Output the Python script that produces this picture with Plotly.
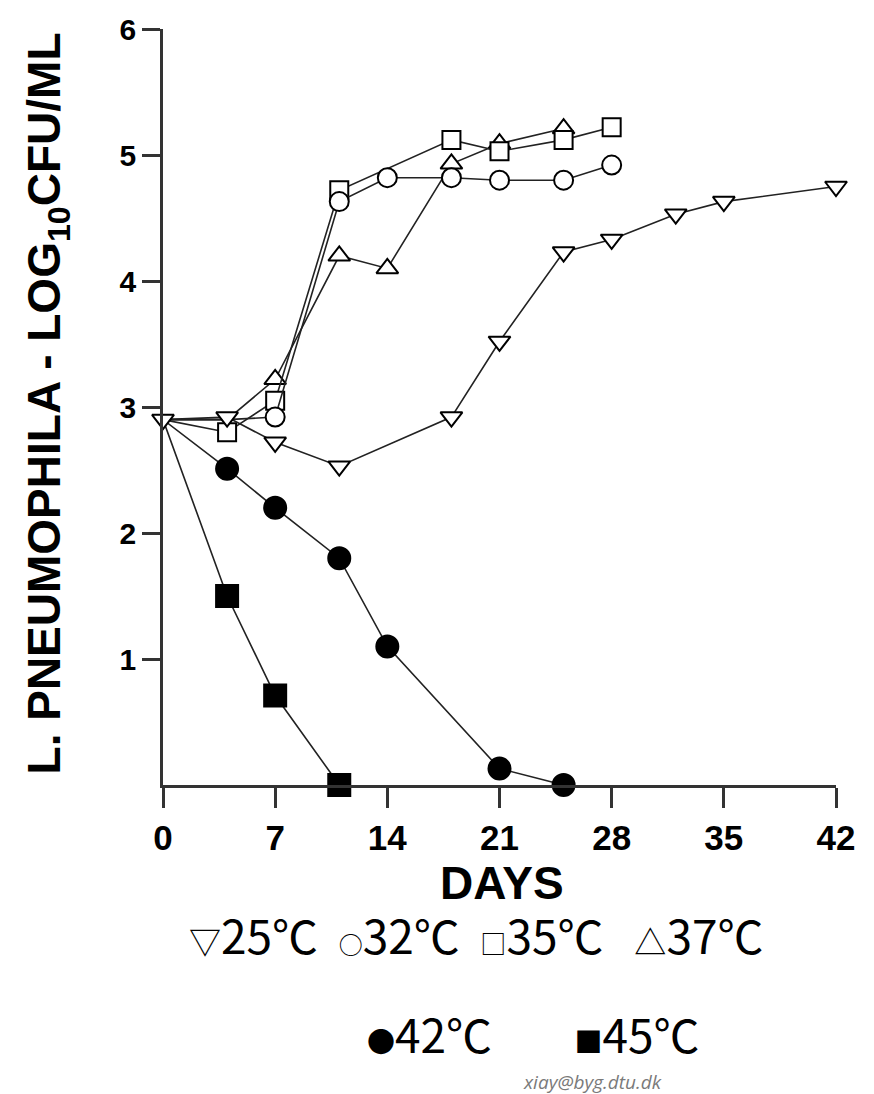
import plotly.graph_objects as go

# ---- data ----
days_25 = [0, 4, 7, 11, 18, 21, 25, 28, 32, 35, 42]
vals_25 = [2.9, 2.92, 2.72, 2.53, 2.92, 3.52, 4.23, 4.33, 4.53, 4.63, 4.75]

days_32 = [0, 4, 7, 11, 14, 18, 21, 25, 28]
vals_32 = [2.9, 2.9, 2.92, 4.63, 4.82, 4.82, 4.8, 4.8, 4.92]

days_35 = [0, 4, 7, 11, 18, 21, 25, 28]
vals_35 = [2.9, 2.8, 3.05, 4.72, 5.12, 5.03, 5.12, 5.22]

days_37 = [0, 4, 7, 11, 14, 18, 21, 25]
vals_37 = [2.9, 2.9, 3.22, 4.2, 4.1, 4.93, 5.09, 5.21]

days_42 = [0, 4, 7, 11, 14, 21, 25]
vals_42 = [2.9, 2.51, 2.2, 1.8, 1.1, 0.13, 0.0]

days_45 = [0, 4, 7, 11]
vals_45 = [2.9, 1.5, 0.71, 0.0]

x_ticks = [0, 7, 14, 21, 28, 35, 42]
x_tick_labels = ["0", "7", "14", "21", "28", "35", "42"]
y_ticks = [1, 2, 3, 4, 5, 6]
y_tick_labels = ["1", "2", "3", "4", "5", "6"]

# (name, x, y, symbol, fill, size, number of leading points whose marker is hidden under the 25℃ marker)
series = [
    ("37℃", days_37, vals_37, "triangle-up", "white", 19, 2),
    ("35℃", days_35, vals_35, "square", "white", 18, 1),
    ("32℃", days_32, vals_32, "circle", "white", 19, 2),
    ("42℃", days_42, vals_42, "circle", "black", 22, 1),
    ("45℃", days_45, vals_45, "square", "black", 22, 1),
    ("25℃", days_25, vals_25, "triangle-down", "white", 19, 0),
]

fig = go.Figure()
for name, xs, ys, sym, fill, size, hidden in series:
    sizes = [0 if i < hidden else size for i in range(len(xs))]
    fig.add_trace(go.Scatter(
        x=xs, y=ys, name=name, mode="lines+markers",
        line=dict(color="#222222", width=1.6),
        marker=dict(symbol=sym, size=sizes, color=fill, opacity=1,
                    line=dict(color="black", width=2)),
        cliponaxis=False, showlegend=False,
    ))

axis_font = dict(family="Liberation Sans, Arial, sans-serif", color="black", weight="bold")

fig.update_xaxes(
    range=[0, 42], tickvals=x_ticks, ticktext=x_tick_labels,
    showgrid=False, zeroline=False, showline=True, linecolor="#333333", linewidth=2.5,
    ticks="outside", ticklen=20, tickwidth=2.5, tickcolor="#333333",
    tickfont=dict(size=35, **axis_font),
)
fig.update_yaxes(
    range=[0, 6], tickvals=y_ticks, ticktext=y_tick_labels,
    showgrid=False, zeroline=False, showline=True, linecolor="#333333", linewidth=2.5,
    ticks="outside", ticklen=18, tickwidth=2.5, tickcolor="#333333",
    tickfont=dict(size=30, **axis_font),
)


def sym(ch, px):
    return f'<span style="font-size:{px}px">{ch}</span>'


legend_line1 = (sym("▽", 32) + "25℃  " + sym("○", 24) + "32℃  "
                + sym("□", 26) + "35℃   " + sym("△", 32) + "37℃")
legend_line2 = sym("●", 28) + "42℃        " + sym("■", 28) + "45℃"

annotations = [
    dict(text="L. PNEUMOPHILA - LOG<sub>10</sub>CFU/ML", xref="paper", yref="paper",
         x=-0.172, y=0.505, textangle=-90, showarrow=False,
         xanchor="center", yanchor="middle",
         font=dict(family="Liberation Sans, Arial, sans-serif",
                   size=46, color="black", weight="bold")),
    dict(text="DAYS", xref="paper", yref="paper", x=0.504, y=-0.130,
         showarrow=False, xanchor="center", yanchor="middle",
         font=dict(family="Liberation Sans, Arial, sans-serif", size=46,
                   color="black", weight="bold")),
    dict(text=legend_line1, xref="paper", yref="paper",
         x=(476 - 163) / 673, y=(785 - 934) / 758, showarrow=False,
         xanchor="center", yanchor="middle",
         font=dict(family="Noto Sans CJK SC, sans-serif", size=46, color="black")),
    dict(text=legend_line2, xref="paper", yref="paper",
         x=(533 - 163) / 673, y=(785 - 1034) / 758, showarrow=False,
         xanchor="center", yanchor="middle",
         font=dict(family="Noto Sans CJK SC, sans-serif", size=46, color="black")),
    dict(text="<i>xiay@byg.dtu.dk</i>", xref="paper", yref="paper",
         x=(592 - 163) / 673, y=(785 - 1068) / 758, showarrow=False,
         xanchor="center", yanchor="top",
         font=dict(family="Open Sans, sans-serif", size=19, color="#7a7a7a")),
]
fig.update_layout(
    width=874, height=1094,
    margin=dict(l=163, r=38, t=27, b=309),
    paper_bgcolor="white", plot_bgcolor="white",
    annotations=annotations,
)

fig.write_html("out.html")
